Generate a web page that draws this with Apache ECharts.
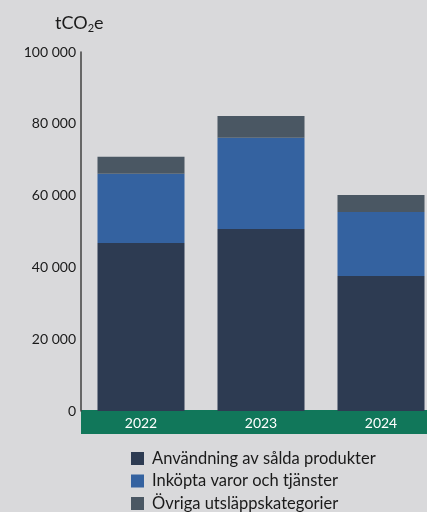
<!DOCTYPE html>
<html lang="sv">
<head>
<meta charset="UTF-8">
<title>Utsläpp tCO2e</title>
<script src="https://cdn.jsdelivr.net/npm/echarts@6/dist/echarts.min.js"></script>
<style>
  html, body { margin: 0; padding: 0; background: #d9d9db; }
  #chart { width: 427px; height: 512px; }
</style>
</head>
<body>
<div id="chart"></div>
<script>
// data
var years = ['2022', '2023', '2024'];
var seriesNames = ['Användning av sålda produkter', 'Inköpta varor och tjänster', 'Övriga utsläppskategorier'];
var salda = [46800, 50700, 37600];
var inkopta = [19300, 25400, 17800];
var ovriga = [4700, 6100, 4800];
var yTicks = [0, 20000, 40000, 60000, 80000, 100000];

var colors = ['#2d3b52', '#3462a0', '#4a5763'];
var font = 'Lato, "Open Sans", sans-serif';

var chart = echarts.init(document.getElementById('chart'));

function fmt(v) {
    // 100000 -> "100 000"
    return String(v).replace(/\B(?=(\d{3})+(?!\d))/g, ' ');
}

var option = {
    backgroundColor: '#d9d9db',
    animation: false,
    textStyle: { fontFamily: font },
    title: {
        text: 'tCO{sub|2}e',
        left: 50,
        top: 8,
        textStyle: {
            fontSize: 18,
            fontWeight: 'normal',
            color: '#1a1a1a',
            fontFamily: font,
            rich: {
                sub: { fontSize: 11, verticalAlign: 'bottom', padding: [10, 0, 0, 0], color: '#1a1a1a', fontFamily: font }
            }
        }
    },
    // green band behind the year labels
    graphic: [{
        type: 'rect',
        left: 81,
        top: 410,
        shape: { width: 346, height: 24 },
        style: { fill: '#11775a' },
        z: 0
    }],
    grid: {
        left: 81,
        top: 52,
        width: 360,
        height: 359,
        outerBoundsMode: 'none',
        containLabel: false
    },
    xAxis: {
        type: 'category',
        data: years,
        axisLine: { show: false },
        axisTick: { show: false },
        axisLabel: {
            color: '#ffffff',
            fontSize: 14,
            margin: 5,
            fontFamily: font
        },
        z: 5
    },
    yAxis: {
        type: 'value',
        min: 0,
        max: 100000,
        interval: 20000,
        axisLine: { show: true, lineStyle: { color: '#404040', width: 1.5 } },
        axisTick: { show: false },
        splitLine: { show: false },
        axisLabel: {
            color: '#1a1a1a',
            fontSize: 14,
            margin: 5,
            fontFamily: font,
            formatter: function (v) {
                return yTicks.indexOf(v) >= 0 ? fmt(v) : '';
            }
        }
    },
    legend: {
        orient: 'vertical',
        left: 126,
        top: 445,
        height: 80,
        itemWidth: 13,
        itemHeight: 13,
        itemGap: 5.5,
        icon: 'rect',
        data: seriesNames,
        textStyle: { color: '#1a1a1a', fontSize: 16.5, fontFamily: font, padding: [0, 0, 0, 3] }
    },
    series: [
        { name: seriesNames[0], type: 'bar', stack: 'tot', data: salda, barWidth: 87, itemStyle: { color: colors[0] } },
        { name: seriesNames[1], type: 'bar', stack: 'tot', data: inkopta, barWidth: 87, itemStyle: { color: colors[1] } },
        { name: seriesNames[2], type: 'bar', stack: 'tot', data: ovriga, barWidth: 87, itemStyle: { color: colors[2] } }
    ]
};

chart.setOption(option);
</script>
</body>
</html>
